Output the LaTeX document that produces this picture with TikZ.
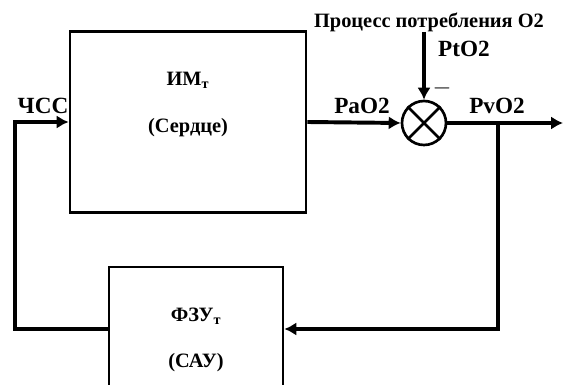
\documentclass[tikz,border=0pt]{standalone}
\usepackage{fontspec}
\setmainfont{Liberation Serif}
\usepackage{tikz}
\usetikzlibrary{calc,arrows.meta}

\begin{document}
\begin{tikzpicture}[x=0.025cm,y=-0.025cm,>={Latex[length=8.5pt,width=9.5pt]},
			block/.style={draw,line width=1.9pt,inner sep=0pt},
			sig/.style={line width=2.8pt},
			lbl/.style={font=\bfseries\fontsize{16.5}{18}\selectfont,inner sep=0pt},
			btext/.style={font=\bfseries\fontsize{14.5}{16}\selectfont,inner sep=0pt},
			]
			\useasboundingbox (0,0) rectangle (563,385);
			
			% блоки
			\node[block,minimum width=5.9cm,minimum height=4.525cm] (im) at (188,122) {};
			\node[block,minimum width=4.35cm,minimum height=4.1cm] (fzu) at (196,349) {};
			\node[draw,circle,line width=1.9pt,minimum size=1.1cm,inner sep=0pt] (sum) at (424,123) {};
			\draw[line width=1.9pt] (sum.45)--(sum.225) (sum.135)--(sum.315);
			
			% надписи в блоках
			\node[btext] at ($(im.north)+(0,50)$) {ИМ\textsubscript{т}};
			\node[btext] at ($(im.north)+(0,97)$) {(Сердце)};
			\node[btext] at ($(fzu.north)+(0,51)$) {ФЗУ\textsubscript{т}};
			\node[btext] at ($(fzu.north)+(0,97)$) {(САУ)};
			
			% точки линий
			\coordinate (in) at (424,32);
			\coordinate (out) at (563,123);
			\coordinate (br) at (498,123);
			\coordinate (fb) at (498,329);
			\coordinate (lc) at (15,329);
			
			% связи
			\draw[sig,->] (im.east)--(sum.west);
			\draw[sig,->] (sum.east)--(out);
			\draw[sig,->] (in)--(sum.north);
			\draw[sig,->] (br)--(fb)--(fzu.east |- fb);
			\draw[sig,->] (fzu.west |- fb)--(lc) |- (im.west);
			
			% подписи
			\node[btext] (proc) at (429,22) {Процесс потребления О2};
			\node[lbl] (pt) at (464,49) {PtO2};
			\node[lbl] (minus) at (442,88) {$-$};
			\node[lbl] (pa) at (362,106) {PaO2};
			\node[lbl] (pv) at (497,106) {PvO2};
			\node[lbl] (hr) at (43,106) {ЧСС};
		\end{tikzpicture}
\end{document}
